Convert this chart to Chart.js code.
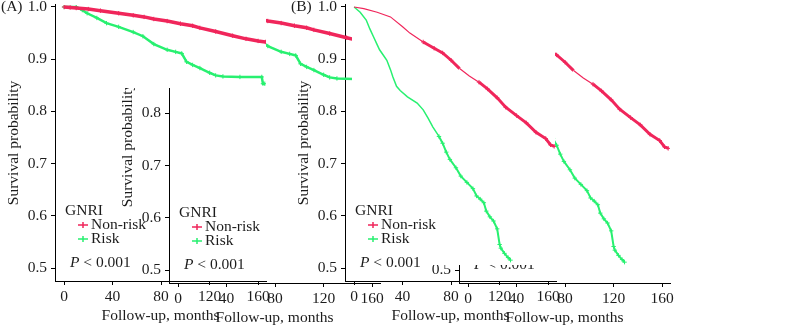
<!DOCTYPE html>
<html>
<head>
<meta charset="utf-8">
<script src="https://cdn.jsdelivr.net/npm/chart.js@4.4.0/dist/chart.umd.min.js"></script>
<style>
  html, body { margin: 0; padding: 0; background: #fff; }
  body { width: 787px; height: 326px; position: relative; overflow: hidden; }
  .layer { position: absolute; left: 0; top: 0; width: 787px; height: 326px; overflow: hidden; }
  .layer canvas { position: absolute; }
</style>
</head>
<body>
<div class="layer" id="orig"></div>
<div class="layer" id="copyA" style="clip-path: polygon(114px 88px, 266px 88px, 266px 0px, 352px 0px, 352px 277px, 392px 277px, 392px 326px, 114px 326px);"></div>
<div class="layer" id="copyB" style="clip-path: polygon(420px 265px, 555px 265px, 555px 0px, 787px 0px, 787px 326px, 420px 326px);"></div>
<script>
// tick values and group names
const X_TICKS = [0, 40, 80, 120, 160];
const Y_TICKS = [0.5, 0.6, 0.7, 0.8, 0.9, 1.0];
const GROUPS = ["Non-risk", "Risk"];
const LEGEND_TITLE = "GNRI";
const P_TEXT = " < 0.001";

// panel A, survival (months, probability)
const A_NONRISK_T = [0, 5, 10, 20, 30, 45, 57, 66, 74, 85, 96, 106, 112, 125, 139, 150, 160, 166];
const A_NONRISK_S = [1.0, 0.999, 0.998, 0.996, 0.993, 0.988, 0.984, 0.981, 0.977, 0.973, 0.968, 0.964, 0.960, 0.953, 0.945, 0.939, 0.935, 0.933];
const A_RISK_T = [0, 10, 15, 19, 27, 35, 45, 57, 65, 74, 85, 92, 97, 101, 106, 112, 120, 125, 131, 145, 163, 164, 165.5];
const A_RISK_S = [1.0, 1.0, 0.994, 0.988, 0.979, 0.969, 0.962, 0.952, 0.944, 0.929, 0.918, 0.914, 0.911, 0.895, 0.889, 0.883, 0.874, 0.869, 0.867, 0.866, 0.866, 0.853, 0.853];

// panel B
const B_NONRISK_T = [0, 8, 19, 30, 40, 46, 57, 66, 73, 80, 87, 95, 103, 110, 118, 125, 134, 142, 150, 158, 162, 165];
const B_NONRISK_S = [1.0, 0.997, 0.990, 0.981, 0.962, 0.950, 0.933, 0.921, 0.912, 0.898, 0.882, 0.868, 0.856, 0.843, 0.826, 0.808, 0.792, 0.778, 0.760, 0.748, 0.736, 0.733];
const B_RISK_T = [0, 5, 10, 13, 16, 19, 21, 24, 27, 30, 32, 35, 38, 44, 52, 57, 61, 65, 70, 73, 76, 79, 84, 88, 93, 98, 101, 104, 107, 109, 112, 115, 118, 120, 121, 124, 127, 129];
const B_RISK_S = [1.0, 0.99, 0.975, 0.958, 0.943, 0.928, 0.918, 0.908, 0.898, 0.880, 0.866, 0.848, 0.840, 0.828, 0.816, 0.803, 0.787, 0.770, 0.752, 0.739, 0.722, 0.708, 0.692, 0.676, 0.664, 0.652, 0.638, 0.632, 0.625, 0.609, 0.598, 0.590, 0.575, 0.545, 0.538, 0.528, 0.520, 0.515];

const RED = "#f0265b";
const GREEN = "#28f070";
const INK = "#1c1c1c";
const FONT = '"Liberation Serif", "Times New Roman", serif';
const FSIZE = 15.5;

// canvas sits 20px above the page so the top tick label has room
const TOP_OFF = -20;
const SHIFT_X = 114, SHIFT_Y = 2;

const decor = {
  id: "decor",
  afterDraw(chart, args, opts) {
    const { ctx, chartArea } = chart;
    const L = chartArea.left, B = chartArea.bottom;
    ctx.save();
    ctx.fillStyle = INK;
    ctx.font = FSIZE + "px " + FONT;
    ctx.textBaseline = "middle";
    ctx.textAlign = "left";
    ctx.fillText(opts.label, 1, chartArea.top + 2.5);

    ctx.fillText(LEGEND_TITLE, L + 10, B - 70);
    [RED, GREEN].forEach((c, i) => {
      const y = B - 56 + i * 14;
      ctx.strokeStyle = c;
      ctx.lineWidth = 1.5;
      ctx.beginPath();
      ctx.moveTo(L + 23, y); ctx.lineTo(L + 33, y);
      ctx.moveTo(L + 28, y - 3); ctx.lineTo(L + 28, y + 3);
      ctx.stroke();
      ctx.fillText(GROUPS[i], L + 36, y);
    });

    ctx.font = "italic " + FSIZE + "px " + FONT;
    ctx.fillText("P", L + 15, B - 18);
    const w = ctx.measureText("P").width;
    ctx.font = FSIZE + "px " + FONT;
    ctx.fillText(P_TEXT, L + 15 + w, B - 18);
    ctx.restore();
  }
};

// thick = censor-dense stretches, given as [from, to) month ranges
function series(t, s, color, width, thick, thickWidth, name) {
  const isThick = x => thick.some(r => x >= r[0] && x < r[1]);
  return {
    label: name,
    data: t.map((v, i) => ({ x: v, y: s[i] })),
    borderColor: color,
    backgroundColor: color,
    borderWidth: width,
    segment: { borderWidth: c => (isThick(c.p0.parsed.x) ? thickWidth : width) },
    pointStyle: "cross",
    pointRadius: c => (c.parsed && isThick(c.parsed.x) ? 2.2 : 0),
    pointBorderWidth: 1,
    pointBorderColor: color,
    fill: false,
    tension: 0
  };
}

function makePanel(layer, left, top, width, label, datasets) {
  const cv = document.createElement("canvas");
  cv.width = width;
  cv.height = 346;
  cv.style.left = left + "px";
  cv.style.top = top + "px";
  document.getElementById(layer).appendChild(cv);

  const tickFont = { family: FONT, size: FSIZE };
  new Chart(cv.getContext("2d"), {
    type: "line",
    data: { datasets: datasets },
    options: {
      responsive: false,
      animation: false,
      events: [],
      layout: { padding: { top: 24.9, right: width - 266, left: 0, bottom: 0 } },
      plugins: { legend: { display: false }, tooltip: { enabled: false }, decor: { label: label } },
      scales: {
        x: {
          type: "linear",
          min: -7.5,
          max: 166.5,
          afterBuildTicks: sc => { sc.ticks = X_TICKS.map(v => ({ value: v })); },
          afterFit: sc => { sc.height = 45; },
          border: { display: true, color: "#000", width: 1 },
          grid: { drawOnChartArea: false, drawTicks: true, tickLength: 4, color: "#000" },
          ticks: { font: tickFont, color: INK, padding: 3, maxRotation: 0, callback: v => String(v) },
          title: { display: true, text: "Follow-up, months", font: tickFont, color: INK, padding: { top: 0, bottom: 1 } }
        },
        y: {
          type: "linear",
          min: 0.4751,
          max: 1.004,
          afterBuildTicks: sc => { sc.ticks = Y_TICKS.map(v => ({ value: v })); },
          afterFit: sc => { sc.width = 55; },
          border: { display: true, color: "#000", width: 1 },
          grid: { drawOnChartArea: false, drawTicks: true, tickLength: 4, color: "#000" },
          ticks: { font: tickFont, color: INK, padding: 4, callback: v => v.toFixed(1) },
          title: { display: true, text: "Survival probability", font: tickFont, color: INK, padding: { top: 5, bottom: 0 } }
        }
      }
    },
    plugins: [decor]
  });
}

function panelA() {
  return [
    series(A_NONRISK_T, A_NONRISK_S, RED, 3.5, [[0, 999]], 3.5, GROUPS[0]),
    series(A_RISK_T, A_RISK_S, GREEN, 2.5, [[0, 999]], 2.5, GROUPS[1])
  ];
}
function panelB() {
  return [
    series(B_NONRISK_T, B_NONRISK_S, RED, 1.2, [[57, 82], [100, 999]], 3, GROUPS[0]),
    series(B_RISK_T, B_RISK_S, GREEN, 1.5, [[70, 999]], 2, GROUPS[1])
  ];
}

makePanel("orig", 0, TOP_OFF, 290, "(A)", panelA());
makePanel("orig", 290, TOP_OFF, 497, "(B)", panelB());
makePanel("copyA", SHIFT_X, TOP_OFF + SHIFT_Y, 290, "(A)", panelA());
makePanel("copyB", 290 + SHIFT_X, TOP_OFF + SHIFT_Y, 497, "(B)", panelB());
</script>
</body>
</html>
